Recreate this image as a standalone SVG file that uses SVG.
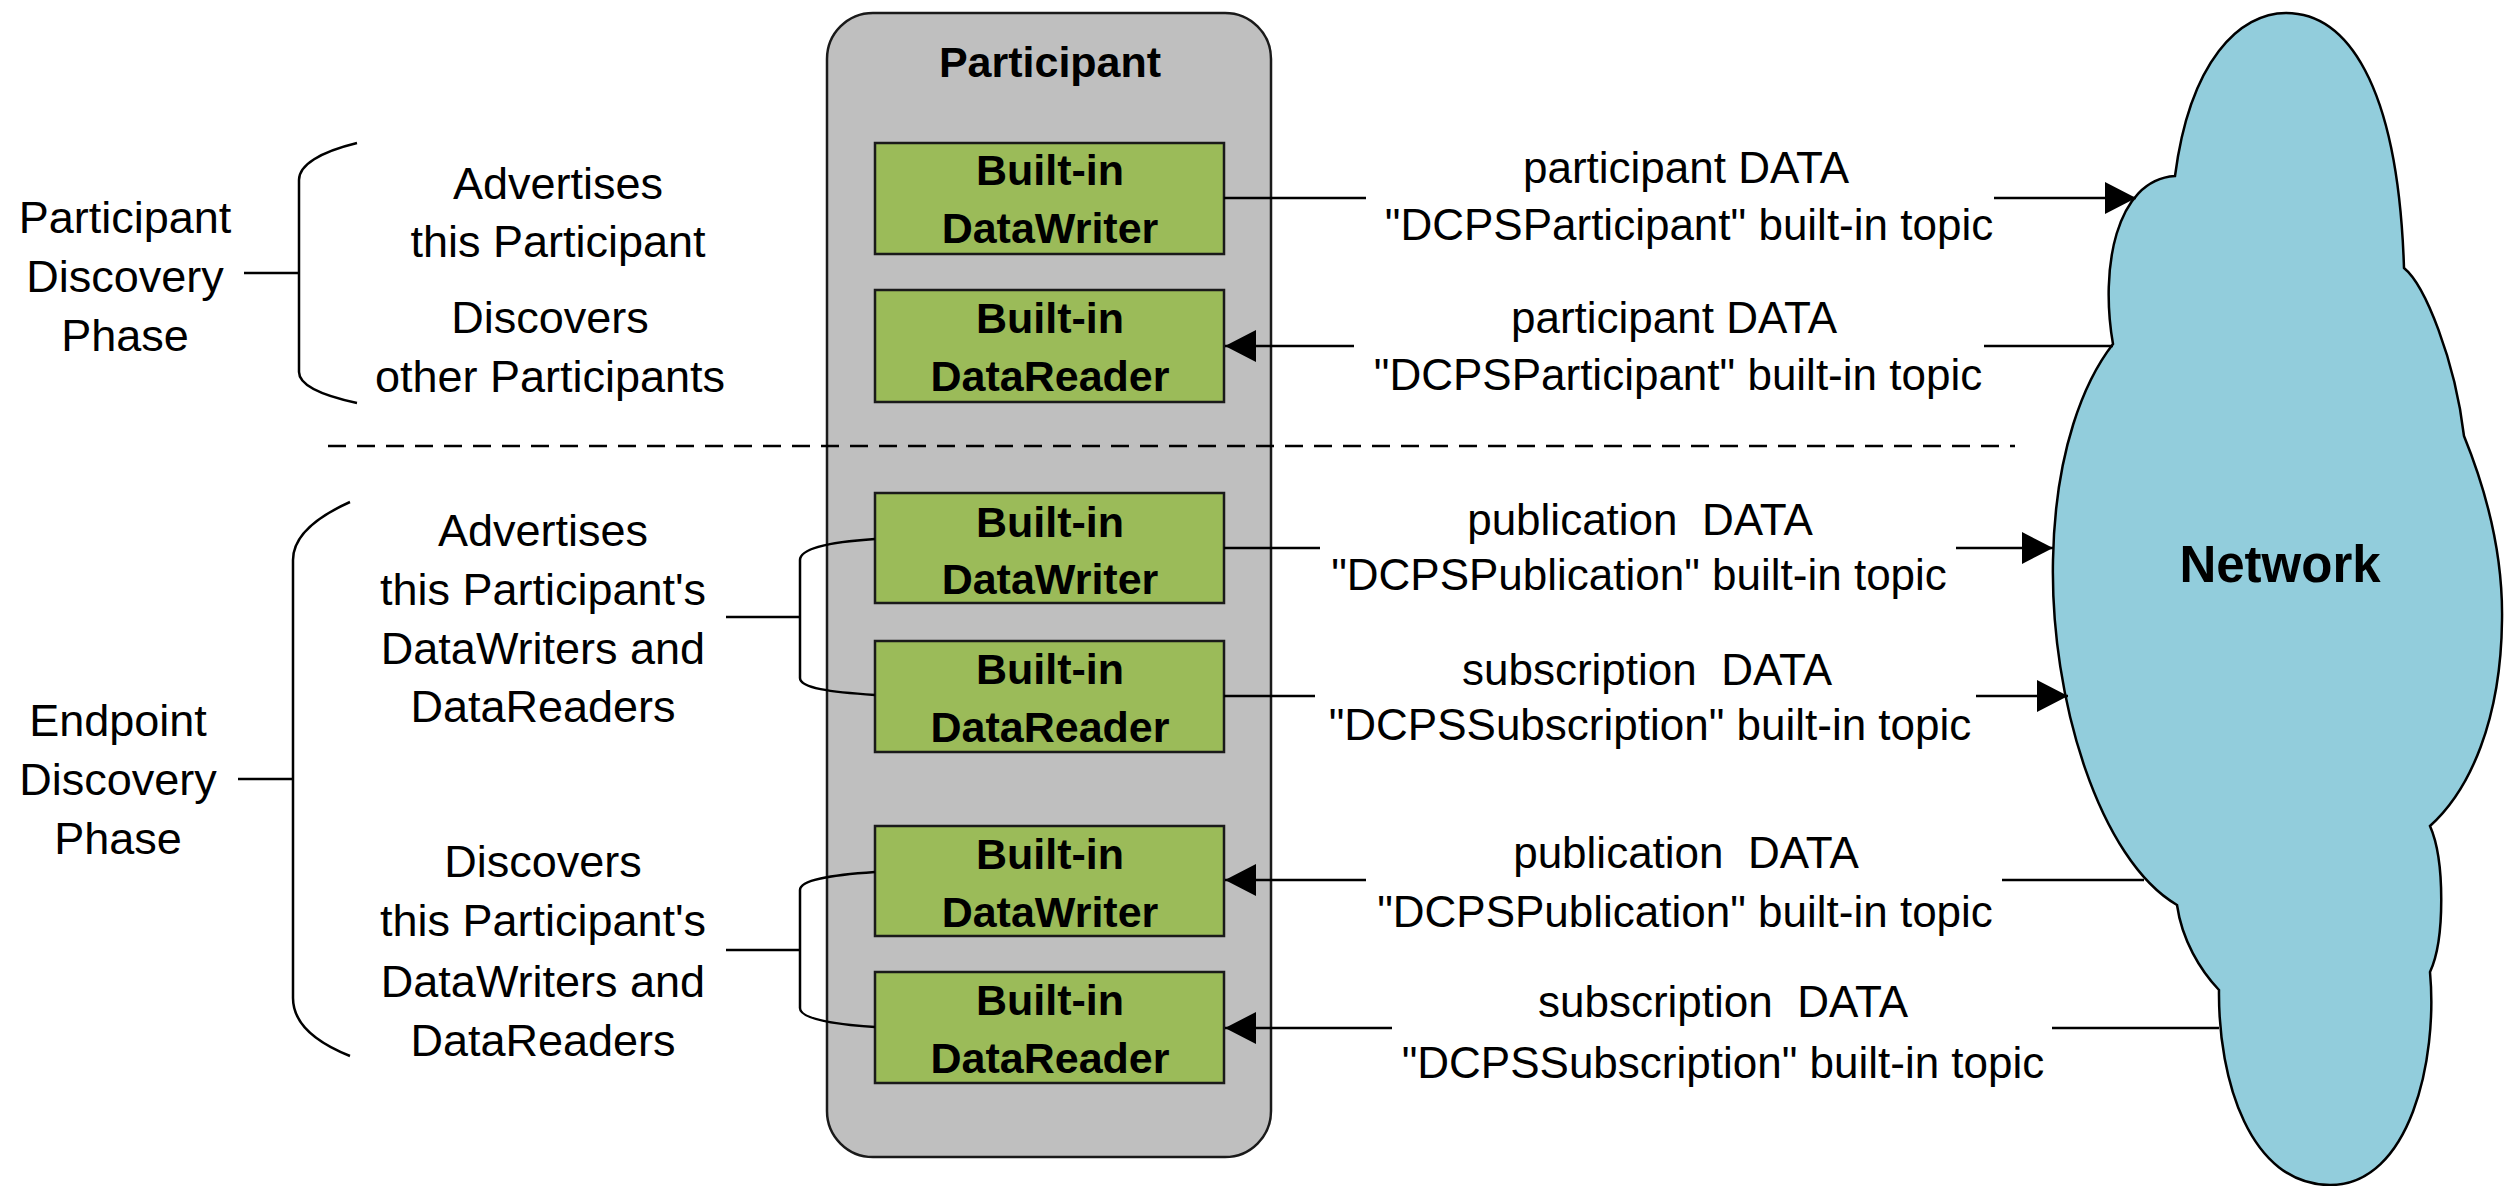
<svg xmlns="http://www.w3.org/2000/svg" width="2509" height="1186" viewBox="0 0 2509 1186">
<style>
  text { font-family: "Liberation Sans", Arial, sans-serif; fill: #000; }
  .t { font-size: 45px; text-anchor: middle; }
  .lbl { font-size: 44px; text-anchor: middle; }
  .b { font-size: 43px; font-weight: bold; text-anchor: middle; }
  .net { font-size: 51px; font-weight: bold; text-anchor: middle; }
  .box { fill: #9bbb59; stroke: #1a1a1a; stroke-width: 2.5; }
  .ln { fill: none; stroke: #000; stroke-width: 2.5; }
  .arr { fill: none; stroke: #000; stroke-width: 2.5; marker-end: url(#ah); }
</style>
<defs>
  <marker id="ah" viewBox="0 0 31 32" refX="31" refY="16" markerWidth="31" markerHeight="32" markerUnits="userSpaceOnUse" orient="auto">
    <path d="M0,0 L31,16 L0,32 z" fill="#000"/>
  </marker>
</defs>
<rect width="2509" height="1186" fill="#fff"/>

<g id="participant">
  <rect x="827" y="13" width="444" height="1144" rx="46" ry="46" fill="#bfbfbf" stroke="#1a1a1a" stroke-width="2.5"/>
  <text class="b" x="1050" y="77">Participant</text>
</g>

<g id="network">
  <path d="M 2175,176 C 2190,60 2240,13 2286,13 C 2345,13 2398,80 2404,268 C 2425,285 2455,360 2464,436 C 2490,500 2503,560 2502,620 C 2501,720 2470,790 2430,826 C 2445,860 2445,940 2430,972 C 2438,1060 2410,1185 2330,1185 C 2250,1185 2218,1080 2219,990 C 2200,970 2182,940 2177,905 C 2100,860 2050,700 2053,560 C 2055,450 2085,380 2113,344 C 2100,270 2115,180 2175,176 Z" fill="#92cddc" stroke="#000" stroke-width="2.5"/>
  <text class="net" x="2280" y="582">Network</text>
</g>

<g id="dw1">
  <rect class="box" x="875" y="143" width="349" height="111"/>
  <text class="b" x="1050" y="185">Built-in</text>
  <text class="b" x="1050" y="243">DataWriter</text>
</g>
<g id="dr1">
  <rect class="box" x="875" y="290" width="349" height="112"/>
  <text class="b" x="1050" y="333">Built-in</text>
  <text class="b" x="1050" y="391">DataReader</text>
</g>
<g id="dw2">
  <rect class="box" x="875" y="493" width="349" height="110"/>
  <text class="b" x="1050" y="537">Built-in</text>
  <text class="b" x="1050" y="594">DataWriter</text>
</g>
<g id="dr2">
  <rect class="box" x="875" y="641" width="349" height="111"/>
  <text class="b" x="1050" y="684">Built-in</text>
  <text class="b" x="1050" y="742">DataReader</text>
</g>
<g id="dw3">
  <rect class="box" x="875" y="826" width="349" height="110"/>
  <text class="b" x="1050" y="869">Built-in</text>
  <text class="b" x="1050" y="927">DataWriter</text>
</g>
<g id="dr3">
  <rect class="box" x="875" y="972" width="349" height="111"/>
  <text class="b" x="1050" y="1015">Built-in</text>
  <text class="b" x="1050" y="1073">DataReader</text>
</g>

<g id="phase-participant">
  <text class="t" x="125" y="233">Participant</text>
  <text class="t" x="125" y="292">Discovery</text>
  <text class="t" x="125" y="351">Phase</text>
  <path class="ln" d="M 244,273 L 299,273"/>
  <path class="ln" d="M 357,143 C 320,152 299,165 299,180 L 299,372 C 299,385 320,395 357,403"/>
  <text class="t" x="558" y="199">Advertises</text>
  <text class="t" x="558" y="257">this Participant</text>
  <text class="t" x="550" y="333">Discovers</text>
  <text class="t" x="550" y="392">other Participants</text>
</g>

<g id="phase-endpoint">
  <text class="t" x="118" y="736">Endpoint</text>
  <text class="t" x="118" y="795">Discovery</text>
  <text class="t" x="118" y="854">Phase</text>
  <path class="ln" d="M 238,779 L 293,779"/>
  <path class="ln" d="M 350,502 C 310,520 293,540 293,560 L 293,998 C 293,1020 310,1040 350,1056"/>
  <text class="t" x="543" y="546">Advertises</text>
  <text class="t" x="543" y="605">this Participant's</text>
  <text class="t" x="543" y="664">DataWriters and</text>
  <text class="t" x="543" y="722">DataReaders</text>
  <text class="t" x="543" y="877">Discovers</text>
  <text class="t" x="543" y="936">this Participant's</text>
  <text class="t" x="543" y="997">DataWriters and</text>
  <text class="t" x="543" y="1056">DataReaders</text>
</g>

<g id="connectors">
  <path d="M 328,446 L 2015,446" fill="none" stroke="#000" stroke-width="2.5" stroke-dasharray="18 11"/>
  <path class="ln" d="M 726,617 L 800,617"/>
  <path class="ln" d="M 875,539 C 830,542 800,548 800,560 L 800,678 C 800,688 830,692 875,695"/>
  <path class="ln" d="M 726,950 L 800,950"/>
  <path class="ln" d="M 875,872 C 830,875 800,880 800,890 L 800,1008 C 800,1018 830,1024 875,1027"/>

  <path class="ln" d="M 1224,198 L 1366,198"/>
  <path class="arr" d="M 1994,198 L 2136,198"/>
  <path class="ln" d="M 2113,346 L 1984,346"/>
  <path class="arr" d="M 1354,346 L 1225,346"/>
  <path class="ln" d="M 1224,548 L 1320,548"/>
  <path class="arr" d="M 1956,548 L 2053,548"/>
  <path class="ln" d="M 1224,696 L 1315,696"/>
  <path class="arr" d="M 1976,696 L 2068,696"/>
  <path class="ln" d="M 2144,880 L 2002,880"/>
  <path class="arr" d="M 1366,880 L 1225,880"/>
  <path class="ln" d="M 2219,1028 L 2052,1028"/>
  <path class="arr" d="M 1392,1028 L 1225,1028"/>

  <text class="lbl" x="1686" y="183">participant DATA</text>
  <text class="lbl" x="1689" y="240">"DCPSParticipant" built-in topic</text>
  <text class="lbl" x="1674" y="333">participant DATA</text>
  <text class="lbl" x="1678" y="390">"DCPSParticipant" built-in topic</text>
  <text class="lbl" x="1640" y="535" xml:space="preserve">publication  DATA</text>
  <text class="lbl" x="1639" y="590">"DCPSPublication" built-in topic</text>
  <text class="lbl" x="1647" y="685" xml:space="preserve">subscription  DATA</text>
  <text class="lbl" x="1650" y="740">"DCPSSubscription" built-in topic</text>
  <text class="lbl" x="1686" y="868" xml:space="preserve">publication  DATA</text>
  <text class="lbl" x="1685" y="927">"DCPSPublication" built-in topic</text>
  <text class="lbl" x="1723" y="1017" xml:space="preserve">subscription  DATA</text>
  <text class="lbl" x="1723" y="1078">"DCPSSubscription" built-in topic</text>
</g>
</svg>
